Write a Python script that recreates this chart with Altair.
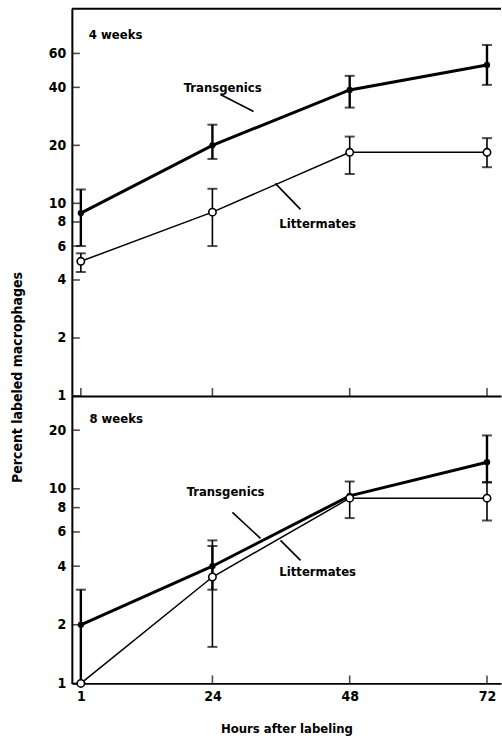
import altair as alt
import pandas as pd

FONT = "Liberation Sans Narrow, DejaVu Sans Condensed, Roboto Condensed, Liberation Sans, sans-serif"

hours = [1, 24, 48, 72]

# 4 weeks panel
tg4 = [8.9, 20.0, 38.8, 52.3]
tg4_lo = [6.0, 17.0, 31.4, 41.2]
tg4_hi = [11.8, 25.6, 45.9, 66.4]
lm4 = [5.0, 9.0, 18.4, 18.4]
lm4_lo = [4.4, 6.0, 14.2, 15.4]
lm4_hi = [5.5, 11.9, 22.2, 21.8]

# 8 weeks panel
tg8 = [2.0, 4.0, 9.2, 13.7]
tg8_lo = [1.0, 3.03, None, 10.8]
tg8_hi = [3.03, 5.08, None, 18.8]
lm8 = [1.0, 3.52, 8.95, 8.95]
lm8_lo = [None, 1.54, 7.07, 6.87]
lm8_hi = [None, 5.43, 10.9, 10.8]

xticks = [1, 24, 48, 72]
yticks_top = [1, 2, 4, 6, 8, 10, 20, 40, 60]
yticks_bot = [1, 2, 4, 6, 8, 10, 20]

# annotation positions (data units)
top_labels = {"text": ["4 weeks", "Transgenics", "Littermates"],
              "h": [2.4, 25.8, 42.4], "v": [75.0, 39.9, 7.79],
              "align": ["left", "center", "center"]}
top_leaders = {"h": [25.4, 35.0], "v": [36.7, 12.7], "h2": [31.2, 39.4], "v2": [30.0, 9.3]}
bot_labels = {"text": ["8 weeks", "Transgenics", "Littermates"],
              "h": [2.5, 26.3, 42.4], "v": [22.9, 9.57, 3.72],
              "align": ["left", "center", "center"]}
bot_leaders = {"h": [27.5, 35.9], "v": [7.56, 5.43], "h2": [32.4, 39.4], "v2": [5.56, 4.29]}

XMIN, XMAX = -0.57, 74.45
W = 430


def series_df(vals, lo, hi):
    rows = []
    for h, v, l, u in zip(hours, vals, lo, hi):
        rows.append({"h": h, "v": v, "lo": l, "hi": u})
    return pd.DataFrame(rows)


def panel(tg, tglo, tghi, lm, lmlo, lmhi, ymax, height, yticks, labels, leaders,
          bottom, ytitle):
    xs = alt.Scale(domain=[XMIN, XMAX], nice=False, zero=False)
    ys = alt.Scale(type="log", domain=[1, ymax], nice=False)
    if bottom:
        xaxis = alt.Axis(values=xticks, ticks=False, grid=False, domainWidth=2,
                         domainColor="black", labelFont=FONT, labelFontSize=14,
                         labelFontWeight="bold", labelColor="black", labelPadding=6,
                         title="Hours after labeling", titleFont=FONT, titleFontSize=13,
                         titleFontWeight="bold", titlePadding=19, format="d")
    else:
        xaxis = alt.Axis(values=xticks, ticks=False, grid=False, domainWidth=2,
                         domainColor="black", labels=False, title=None)
    yargs = dict(values=yticks, ticks=False, grid=False, domainWidth=2,
                 domainColor="black", labelFont=FONT, labelFontSize=14,
                 labelFontWeight="bold", labelColor="black", labelPadding=6, format="d")
    if ytitle:
        yaxis = alt.Axis(title="Percent labeled macrophages", titleFont=FONT,
                         titleFontSize=14, titleFontWeight="bold", titleAngle=270,
                         titleX=-54, titleY=369, titleAlign="center",
                         titleBaseline="middle", **yargs)
    else:
        yaxis = alt.Axis(title=None, **yargs)

    X = alt.X("h:Q", scale=xs, axis=xaxis)
    Y = alt.Y("v:Q", scale=ys, axis=yaxis)

    dtg = series_df(tg, tglo, tghi)
    dlm = series_df(lm, lmlo, lmhi)
    etg = dtg.dropna()
    elm = dlm.dropna()

    base_tg = alt.Chart(dtg)
    base_lm = alt.Chart(dlm)

    line_tg = base_tg.mark_line(color="black", strokeWidth=3).encode(x=X, y=Y)
    line_lm = base_lm.mark_line(color="black", strokeWidth=1.5).encode(x=X, y=Y)

    err_tg = alt.Chart(etg).mark_rule(color="black", strokeWidth=2.4).encode(
        x="h:Q", y="lo:Q", y2="hi:Q")
    err_lm = alt.Chart(elm).mark_rule(color="black", strokeWidth=1.6).encode(
        x="h:Q", y="lo:Q", y2="hi:Q")
    cap_tg = alt.Chart(etg).transform_fold(["lo", "hi"], as_=["k", "cv"]).mark_tick(
        color="black", orient="horizontal", size=10, thickness=2).encode(
        x="h:Q", y="cv:Q")
    cap_lm = alt.Chart(elm).transform_fold(["lo", "hi"], as_=["k", "cv"]).mark_tick(
        color="black", orient="horizontal", size=10, thickness=2).encode(
        x="h:Q", y="cv:Q")

    pt_tg = base_tg.mark_point(shape="circle", filled=True, color="black",
                               size=40, opacity=1).encode(x="h:Q", y="v:Q")
    pt_lm = base_lm.mark_point(shape="circle", filled=True, fill="white",
                               stroke="black", strokeWidth=1.6, size=55,
                               opacity=1).encode(x="h:Q", y="v:Q")

    ldf = pd.DataFrame(labels)
    texts = []
    for al in ["left", "center"]:
        sub = ldf[ldf["align"] == al]
        texts.append(alt.Chart(sub).mark_text(font=FONT, fontSize=13, fontWeight="bold",
                                              align=al, baseline="middle",
                                              color="black").encode(
            x="h:Q", y="v:Q", text="text:N"))

    lead = alt.Chart(pd.DataFrame(leaders)).mark_rule(color="black", strokeWidth=1.6).encode(
        x="h:Q", y="v:Q", x2="h2:Q", y2="v2:Q")

    ytk = alt.Chart(pd.DataFrame({"v": yticks})).mark_tick(
        color="black", orient="horizontal", size=8, thickness=1.6, xOffset=4).encode(
        x=alt.datum(XMIN), y="v:Q")
    xtk = alt.Chart(pd.DataFrame({"h": xticks})).mark_tick(
        color="black", orient="vertical", size=8, thickness=1.6, yOffset=-4).encode(
        x="h:Q", y=alt.datum(1))

    layers = [line_tg, line_lm, err_tg, err_lm, cap_tg, cap_lm, lead, ytk, xtk,
              pt_tg, pt_lm] + texts
    if not bottom:
        border = alt.Chart(pd.DataFrame({"a": [0]})).mark_rule(
            color="black", strokeWidth=2).encode(
            x=alt.datum(XMIN), x2=alt.datum(XMAX), y=alt.datum(ymax))
        layers.append(border)
    return alt.layer(*layers).properties(width=W, height=height)


top = panel(tg4, tg4_lo, tg4_hi, lm4, lm4_lo, lm4_hi, 102.4, 388, yticks_top,
            top_labels, top_leaders, bottom=False, ytitle=True)
bot = panel(tg8, tg8_lo, tg8_hi, lm8, lm8_lo, lm8_hi, 30.0, 288, yticks_bot,
            bot_labels, bot_leaders, bottom=True, ytitle=False)

chart = alt.vconcat(top, bot, spacing=0, bounds="flush").configure_view(
    stroke=None).properties(
    padding={"left": 11, "top": 7, "right": 0, "bottom": 5},
    background="white")

chart.save("out.html", embed_options={"renderer": "svg", "actions": False})
